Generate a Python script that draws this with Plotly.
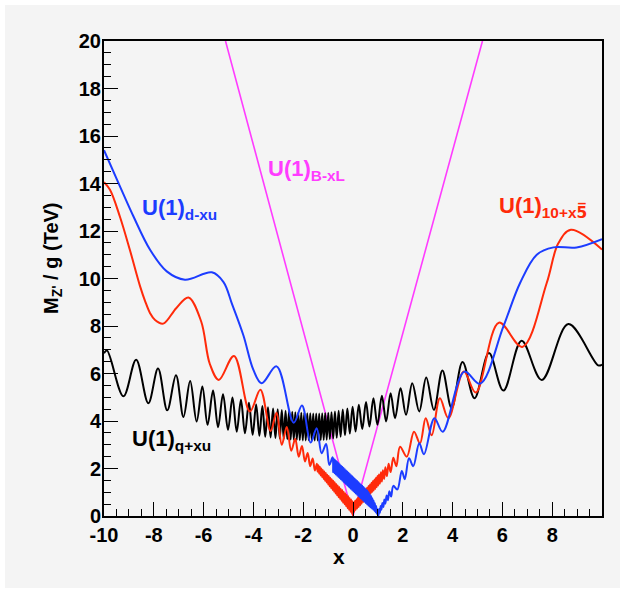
import plotly.graph_objects as go

# ---------------- data ----------------
# U(1)_{q+xu}  (black) : successive peaks / troughs
black_x = [-10.0, -9.88, -9.22, -8.71, -8.22, -7.83, -7.46, -7.11, -6.81, -6.54, -6.28, -6.05,
           -5.84, -5.62, -5.42, -5.22, -5.02, -4.84, -4.67, -4.50, -4.34, -4.18, -4.03, -3.89,
           -3.76, -3.64, -3.525, -3.415, -3.31, -3.21, -3.115, -3.025, -2.94, -2.86, -2.783,
           -2.709, -2.638, -2.57, -2.504, -2.44, -2.378, -2.317, -2.257, -2.197, -2.137, -2.077,
           -2.017, -1.957, -1.897, -1.837, -1.777, -1.717, -1.657, -1.597, -1.537, -1.477,
           -1.417, -1.357, -1.297, -1.237, -1.177, -1.117, -1.056, -0.994, -0.930, -0.864,
           -0.796, -0.726, -0.653, -0.577, -0.497, -0.412, -0.322, -0.227, -0.127, -0.017,
           0.103, 0.233, 0.373, 0.523, 0.66, 0.82, 0.98, 1.16, 1.33, 1.51, 1.69, 1.91, 2.13,
           2.38, 2.66, 2.94, 3.25, 3.59, 3.96, 4.40, 4.88, 5.46, 6.04, 6.77, 7.58, 8.65, 9.85,
           10.0]
black_y = [6.85, 6.97, 5.04, 6.58, 4.75, 6.21, 4.45, 5.93, 4.17, 5.68, 3.98, 5.45,
           3.84, 5.28, 3.74, 5.13, 3.63, 4.99, 3.55, 4.89, 3.48, 4.77, 3.42, 4.70,
           3.38, 4.63, 3.34, 4.58, 3.31, 4.53, 3.28, 4.50, 3.26, 4.46, 3.24,
           4.43, 3.23, 4.41, 3.22, 4.39, 3.21, 4.37, 3.20, 4.36, 3.19, 4.35,
           3.18, 4.34, 3.18, 4.33, 3.18, 4.33, 3.18, 4.32, 3.18, 4.32,
           3.18, 4.32, 3.19, 4.33, 3.20, 4.34, 3.21, 4.35, 3.23, 4.37,
           3.26, 4.40, 3.29, 4.43, 3.34, 4.48, 3.40, 4.53, 3.47, 4.60,
           3.56, 4.68, 3.66, 4.80, 3.77, 4.96, 3.84, 5.06, 3.98, 5.17, 4.12, 5.38, 4.26,
           5.59, 4.40, 5.83, 4.47, 6.13, 4.54, 6.48, 4.96, 6.86, 5.28, 7.38, 5.73, 8.08, 6.34,
           6.38]

# U(1)_{10+x5bar}  (red)
red_x = [-10.0, -9.76, -9.36, -8.96, -8.55, -8.35, -8.15, -7.95, -7.62, -7.10, -6.61, -6.10,
         -5.75, -5.39, -4.78, -4.14, -3.72, -3.31, -3.07, -2.86, -2.66, -2.48, -2.32, -2.18,
         -2.05, -1.93, -1.82, -1.72, -1.62, -1.53,
         -1.45, -1.42, -1.39, -1.36, -1.33, -1.30, -1.27, -1.24, -1.21, -1.18, -1.15, -1.12,
         -1.09, -1.06, -1.03, -1.00, -0.97, -0.94, -0.91, -0.88, -0.85, -0.82, -0.79, -0.76,
         -0.73, -0.70, -0.67, -0.64, -0.61, -0.58, -0.55, -0.52, -0.49, -0.46, -0.43, -0.40,
         -0.37, -0.34, -0.31, -0.28, -0.25, -0.22, -0.19, -0.16, -0.13, -0.10, -0.07, -0.04,
         -0.02, 0.00,
         0.02, 0.05, 0.08, 0.11, 0.14, 0.17, 0.20, 0.23, 0.26, 0.29, 0.32, 0.35, 0.38, 0.41,
         0.44, 0.47, 0.50, 0.53, 0.56, 0.59, 0.62, 0.65, 0.68, 0.71, 0.74, 0.77, 0.80, 0.83,
         0.86, 0.89, 0.92, 0.95, 0.98, 1.01, 1.04, 1.08, 1.12, 1.16, 1.20, 1.25, 1.30,
         1.36, 1.43, 1.51, 1.62, 1.74, 1.89, 2.16, 2.45, 2.69, 2.92, 3.16, 3.49, 3.83,
         4.45, 4.93, 5.86, 6.80, 7.78, 8.25, 8.75, 10.0]
red_y = [14.05, 13.74, 12.60, 11.20, 9.67, 9.05, 8.54, 8.25, 8.10, 8.75, 9.20, 8.20,
         6.40, 5.73, 6.74, 4.40, 5.32, 3.58, 4.35, 3.00, 3.75, 2.75, 3.25, 2.50,
         2.95, 2.30, 2.65, 2.10, 2.42, 1.92,
         2.20, 1.87, 2.14, 1.79, 2.07, 1.71, 2.00, 1.64, 1.94, 1.56, 1.87, 1.48,
         1.81, 1.41, 1.74, 1.33, 1.68, 1.25, 1.61, 1.18, 1.55, 1.10, 1.48, 1.02,
         1.42, 0.95, 1.35, 0.87, 1.28, 0.79, 1.22, 0.72, 1.15, 0.64, 1.09, 0.56,
         1.02, 0.49, 0.96, 0.41, 0.89, 0.33, 0.83, 0.25, 0.76, 0.18, 0.70, 0.10,
         0.62, 0.00,
         0.57, 0.18, 0.64, 0.25, 0.71, 0.32, 0.78, 0.38, 0.85, 0.45, 0.92, 0.52, 0.99, 0.59,
         1.06, 0.66, 1.13, 0.73, 1.19, 0.80, 1.26, 0.87, 1.33, 0.94, 1.40, 1.01, 1.47, 1.07,
         1.54, 1.14, 1.61, 1.21, 1.68, 1.28, 1.75, 1.36, 1.84, 1.45, 1.93, 1.56, 2.05,
         1.68, 2.20, 1.85, 2.45, 2.10, 2.92, 2.50, 3.55, 3.06, 4.12, 3.40, 4.96, 4.12,
         6.08, 5.20, 8.14, 7.12, 9.81, 11.49, 12.05, 11.22]

# U(1)_{d-xu}  (blue)
blue_x = [-10.0, -9.36, -8.82, -8.15, -7.48, -6.75, -5.67, -5.20, -4.85, -4.40, -4.00, -3.67,
          -3.07, -2.38, -2.05, -1.70, -1.46, -1.26, -1.08, -0.95,
          -0.82, -0.795, -0.77, -0.745, -0.72, -0.695, -0.67, -0.645, -0.62, -0.595, -0.57,
          -0.545, -0.52, -0.495, -0.47, -0.445, -0.42, -0.395, -0.37, -0.345, -0.32, -0.295,
          -0.27, -0.245, -0.22, -0.195, -0.17, -0.145, -0.12, -0.095, -0.07, -0.045, -0.02,
          0.005, 0.03, 0.055, 0.08, 0.105, 0.13, 0.155, 0.18, 0.205, 0.23, 0.255, 0.28, 0.305,
          0.33, 0.355, 0.38, 0.405, 0.43, 0.455, 0.48, 0.505, 0.53, 0.555, 0.58, 0.605, 0.63,
          0.655, 0.68, 0.705, 0.73, 0.755, 0.78, 0.805, 0.83, 0.855, 0.88, 0.905, 0.93, 0.955,
          0.98, 1.02,
          1.05, 1.08, 1.11, 1.14, 1.18, 1.22, 1.26, 1.30, 1.35, 1.40, 1.46, 1.53, 1.62, 1.78,
          1.96, 2.08, 2.25, 2.42, 2.66, 2.85, 3.27, 3.60, 4.47, 5.10, 6.04, 6.71, 7.38, 8.05,
          8.98, 10.0]
blue_y = [15.40, 13.88, 12.62, 11.21, 10.30, 9.95, 10.26, 9.85, 8.90, 7.60, 6.15, 5.59,
          6.30, 3.93, 4.65, 3.09, 3.70, 2.64, 3.03, 2.15,
          2.47, 1.845, 2.42, 1.795, 2.37, 1.745, 2.32, 1.695, 2.27, 1.645, 2.22,
          1.595, 2.17, 1.545, 2.12, 1.495, 2.07, 1.445, 2.02, 1.395, 1.97, 1.345,
          1.92, 1.295, 1.87, 1.245, 1.82, 1.195, 1.77, 1.145, 1.72, 1.095, 1.67,
          1.045, 1.62, 0.995, 1.57, 0.945, 1.52, 0.895, 1.47, 0.845, 1.42, 0.795, 1.37, 0.745,
          1.32, 0.695, 1.27, 0.645, 1.22, 0.595, 1.17, 0.545, 1.12, 0.495, 1.07, 0.445, 1.00,
          0.40, 0.92, 0.36, 0.84, 0.32, 0.75, 0.27, 0.65, 0.22, 0.54, 0.16, 0.42, 0.10,
          0.28, 0.00,
          0.30, 0.14, 0.42, 0.26, 0.55, 0.38, 0.70, 0.52, 0.86, 0.66, 1.04, 0.82, 1.27, 1.12,
          1.90, 1.55, 2.43, 2.10, 3.06, 2.60, 4.12, 3.55, 6.08, 5.57, 7.98, 9.81, 11.00, 11.31,
          11.31, 11.66]

# U(1)_{B-xL}  (magenta)
mag_x = [-5.12, 0.0, 5.20]
mag_y = [20.0, 0.0, 20.0]

x_ticks = [-10, -8, -6, -4, -2, 0, 2, 4, 6, 8]
y_ticks = [0, 2, 4, 6, 8, 10, 12, 14, 16, 18, 20]

labels = [
    ("U(1)<sub>d-xu</sub>", -8.55, 12.94, "#1c3cff"),
    ("U(1)<sub>B-xL</sub>", -3.48, 14.58, "#ff3cff"),
    ("U(1)<sub>10+x<span style='font-family:DejaVu Sans'>5\u0305</span></sub>", 5.80, 12.98,
     "#ff2a0a"),
    ("U(1)<sub>q+xu</sub>", -8.95, 3.22, "#000000"),
]

# ---------------- figure ----------------
FONT = "Liberation Sans"
BG = "#f4f4f4"

fig = go.Figure()
fig.add_trace(go.Scatter(x=mag_x, y=mag_y, mode="lines",
                         line=dict(color="#ff3cff", width=1.6)))
fig.add_trace(go.Scatter(x=black_x, y=black_y, mode="lines",
                         line=dict(color="#000000", width=2, shape="spline", smoothing=1.0)))
fig.add_trace(go.Scatter(x=red_x, y=red_y, mode="lines",
                         line=dict(color="#ff2a0a", width=2, shape="spline", smoothing=1.0)))
fig.add_trace(go.Scatter(x=blue_x, y=blue_y, mode="lines",
                         line=dict(color="#1c3cff", width=2, shape="spline", smoothing=1.0)))

for txt, lx, ly, col in labels:
    fig.add_annotation(x=lx, y=ly, xref="x", yref="y", text=txt, showarrow=False,
                       xanchor="left", yanchor="middle",
                       font=dict(family=FONT, size=22, color=col, weight="bold"))

# axis titles
fig.add_annotation(xref="paper", yref="paper", x=-52 / 498, y=(516 - 258) / 475,
                   text="M<sub>Z'</sub> / g (TeV)", textangle=-90, showarrow=False,
                   xanchor="center", yanchor="middle",
                   font=dict(family=FONT, size=20, color="black", weight="bold"))
fig.add_annotation(xref="paper", yref="paper", x=(339 - 104) / 498, y=-(556 - 516) / 475,
                   text="x", showarrow=False, xanchor="center", yanchor="middle",
                   font=dict(family=FONT, size=21, color="black", weight="bold"))

# grey canvas with thin white border
fig.add_shape(type="rect", xref="paper", yref="paper", layer="below",
              x0=-(104 - 5) / 498, x1=(620 - 104) / 498,
              y0=-(588 - 516) / 475, y1=(516 - 5) / 475,
              fillcolor=BG, line=dict(width=0))

axis_common = dict(showline=True, linecolor="black", linewidth=2, mirror=True,
                   ticks="inside", ticklen=14, tickwidth=1, tickcolor="black",
                   showgrid=False, zeroline=False,
                   tickfont=dict(family=FONT, size=20, color="black", weight="bold"),
                   minor=dict(ticks="inside", ticklen=7, tickwidth=1, tickcolor="black",
                              dtick=0.5, showgrid=False))

fig.update_xaxes(range=[-10, 10], tickvals=x_ticks, ticktext=[str(v) for v in x_ticks],
                 **axis_common)
fig.update_yaxes(range=[0, 20], tickvals=y_ticks, ticktext=[str(v) for v in y_ticks],
                 ticklabelstandoff=-3, **axis_common)

fig.update_layout(width=625, height=593,
                  margin=dict(l=104, r=23, t=41, b=77),
                  paper_bgcolor="white", plot_bgcolor=BG,
                  showlegend=False)

fig.write_html("out.html", config={"displayModeBar": False},
               post_script="document.body.style.margin='0';document.body.style.padding='0';")
